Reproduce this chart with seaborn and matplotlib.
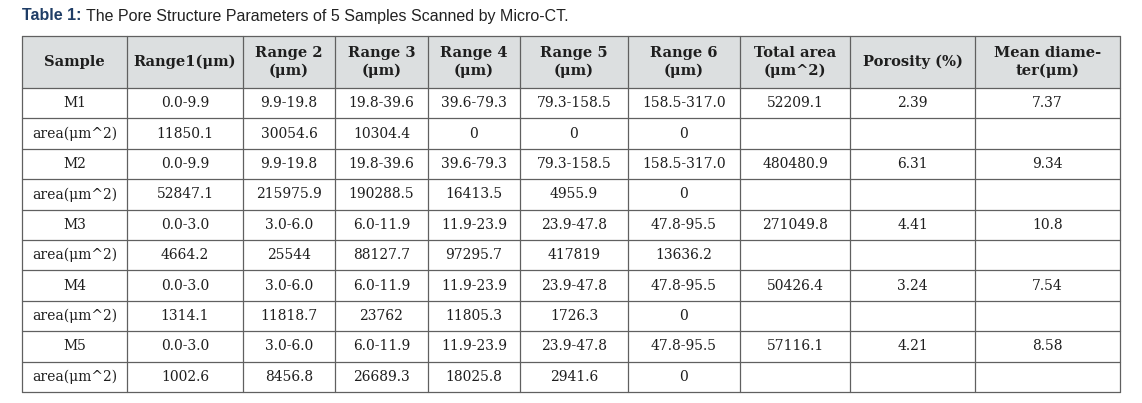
import matplotlib
matplotlib.use("Agg")
import matplotlib.pyplot as plt
import seaborn as sns

sns.set_theme(style="white")
plt.rcParams['font.family'] = ['DejaVu Serif']

headers = ["Sample", "Range1(μm)", "Range 2\n(μm)", "Range 3\n(μm)", "Range 4\n(μm)",
           "Range 5\n(μm)", "Range 6\n(μm)", "Total area\n(μm^2)", "Porosity (%)", "Mean diame-\nter(μm)"]
samples = ["M1", "M2", "M3", "M4", "M5"]
ranges = [
    ["0.0-9.9", "9.9-19.8", "19.8-39.6", "39.6-79.3", "79.3-158.5", "158.5-317.0"],
    ["0.0-9.9", "9.9-19.8", "19.8-39.6", "39.6-79.3", "79.3-158.5", "158.5-317.0"],
    ["0.0-3.0", "3.0-6.0", "6.0-11.9", "11.9-23.9", "23.9-47.8", "47.8-95.5"],
    ["0.0-3.0", "3.0-6.0", "6.0-11.9", "11.9-23.9", "23.9-47.8", "47.8-95.5"],
    ["0.0-3.0", "3.0-6.0", "6.0-11.9", "11.9-23.9", "23.9-47.8", "47.8-95.5"],
]
areas = [
    ["11850.1", "30054.6", "10304.4", "0", "0", "0"],
    ["52847.1", "215975.9", "190288.5", "16413.5", "4955.9", "0"],
    ["4664.2", "25544", "88127.7", "97295.7", "417819", "13636.2"],
    ["1314.1", "11818.7", "23762", "11805.3", "1726.3", "0"],
    ["1002.6", "8456.8", "26689.3", "18025.8", "2941.6", "0"],
]
total_area = ["52209.1", "480480.9", "271049.8", "50426.4", "57116.1"]
porosity = ["2.39", "6.31", "4.41", "3.24", "4.21"]
mean_diam = ["7.37", "9.34", "10.8", "7.54", "8.58"]

rows = []
for i, s in enumerate(samples):
    rows.append([s] + ranges[i] + [total_area[i], porosity[i], mean_diam[i]])
    rows.append(["area(μm^2)"] + areas[i] + ["", "", ""])

W, H = 1142, 403
fig = plt.figure(figsize=(W/100, H/100), dpi=100)
ax = fig.add_axes([0, 0, 1, 1])
ax.set_xlim(0, W); ax.set_ylim(H, 0); ax.axis("off")

xs = [22, 127, 243, 335, 428, 520, 628, 740, 850, 975, 1120]
y0, yh = 36, 88
ye = 392
nr = len(rows)
rh = (ye - yh) / nr
ys = [y0, yh] + [yh + rh*(k+1) for k in range(nr)]

ax.fill_between([xs[0], xs[-1]], y0, yh, color="#dcdfe0", lw=0)
lc = "#606060"
for y in ys:
    ax.plot([xs[0], xs[-1]], [y, y], color=lc, lw=0.9)
for x in xs:
    ax.plot([x, x], [y0, ye], color=lc, lw=0.9)

tc = "#1e1e1e"
for j, h in enumerate(headers):
    ax.text((xs[j]+xs[j+1])/2, (y0+yh)/2, h, ha="center", va="center",
            fontsize=10.5, fontweight="bold", color=tc, linespacing=1.4)
for i, r in enumerate(rows):
    yc = yh + rh*(i+0.5)
    for j, v in enumerate(r):
        ax.text((xs[j]+xs[j+1])/2, yc, v, ha="center", va="center", fontsize=10, color=tc)

ax.text(22, 16, "Table 1:", ha="left", va="center", fontsize=11.5, fontweight="bold",
        color="#1f3d66", family=["Liberation Sans", "DejaVu Sans"])
ax.text(86, 16, "The Pore Structure Parameters of 5 Samples Scanned by Micro-CT.", ha="left",
        va="center", fontsize=11.5, color="#222222", family=["Liberation Sans", "DejaVu Sans"])

fig.savefig("out.png", dpi=100)
